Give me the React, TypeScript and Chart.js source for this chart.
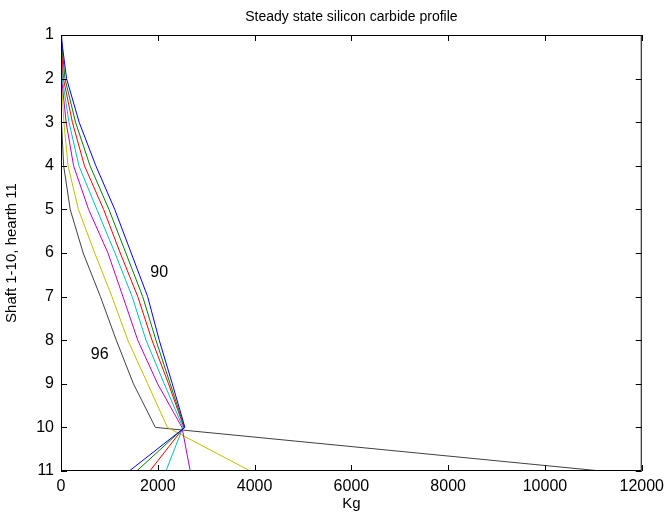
import React, { useEffect, useRef } from "react";
import { Chart, registerables } from "chart.js";

Chart.register(...registerables);

// Furnace levels: shaft 1-10, hearth 11
const levels = [1, 2, 3, 4, 5, 6, 7, 8, 9, 10, 11];

// Silicon carbide mass (kg) at each level, one profile per case
const kg90 = [0, 115, 375, 720, 1110, 1450, 1790, 2030, 2300, 2560, 1410];
const kg91 = [0, 82, 300, 600, 990, 1340, 1688, 1962, 2256, 2550, 1565];
const kg92 = [0, 50, 235, 485, 880, 1224, 1586, 1880, 2222, 2540, 1835];
const kg93 = [0, 27, 165, 370, 740, 1115, 1470, 1757, 2133, 2520, 2168];
const kg94 = [0, 14, 105, 260, 570, 970, 1280, 1586, 1996, 2500, 2670];
const kg95 = [0, 7, 60, 145, 360, 697, 1053, 1381, 1791, 2200, 3912];
const kg96 = [0, 0, 20, 55, 190, 458, 814, 1142, 1497, 1950, 11160];

const caseNames = ["90", "91", "92", "93", "94", "95", "96"];
const caseColors = [
  "rgb(0,0,255)",
  "rgb(0,128,0)",
  "rgb(255,0,0)",
  "rgb(0,191,191)",
  "rgb(191,0,191)",
  "rgb(191,191,0)",
  "rgb(64,64,64)",
];

const xTicks = [0, 2000, 4000, 6000, 8000, 10000, 12000];

const chartTitle = "Steady state silicon carbide profile";
const xTitle = "Kg";
const yTitle = "Shaft 1-10, hearth 11";

// Case labels placed beside the curves (data coordinates)
const curveNotes = [
  { text: "90", kg: 2030, level: 6.44 },
  { text: "96", kg: 800, level: 8.34 },
];

const FONT = "Liberation Sans, Arial, Helvetica, sans-serif";
const TICK_SIZE = 16;
const LABEL_SIZE = 15;

const boxPlugin = {
  id: "boxFrame",
  afterDraw(chart: any) {
    const { ctx, chartArea, scales } = chart;
    const { left, right, top, bottom } = chartArea;
    const tickLen = 6;
    ctx.save();
    ctx.strokeStyle = "#000";
    ctx.lineWidth = 1;
    ctx.beginPath();
    ctx.rect(left + 0.5, top + 0.5, right - left - 1, bottom - top - 1);
    ctx.stroke();
    // inward tick marks on all four sides
    ctx.beginPath();
    xTicks.forEach((v) => {
      const px = Math.round(scales.x.getPixelForValue(v)) + 0.5;
      ctx.moveTo(px, bottom);
      ctx.lineTo(px, bottom - tickLen);
      ctx.moveTo(px, top);
      ctx.lineTo(px, top + tickLen);
    });
    levels.forEach((v) => {
      const py = Math.round(scales.y.getPixelForValue(v)) + 0.5;
      ctx.moveTo(left, py);
      ctx.lineTo(left + tickLen, py);
      ctx.moveTo(right, py);
      ctx.lineTo(right - tickLen, py);
    });
    ctx.stroke();

    // title centred over the axes
    ctx.fillStyle = "#000";
    ctx.font = `${LABEL_SIZE - 1}px ${FONT}`;
    ctx.textAlign = "center";
    ctx.textBaseline = "middle";
    ctx.fillText(chartTitle, (left + right) / 2, 17);

    // curve labels
    ctx.font = `${TICK_SIZE}px ${FONT}`;
    curveNotes.forEach((n) => {
      ctx.fillText(
        n.text,
        scales.x.getPixelForValue(n.kg),
        scales.y.getPixelForValue(n.level)
      );
    });
    ctx.restore();
  },
};

export default function App() {
  const canvasRef = useRef<HTMLCanvasElement | null>(null);

  useEffect(() => {
    if (!canvasRef.current) return;
    const series = [kg90, kg91, kg92, kg93, kg94, kg95, kg96];
    const datasets = series.map((vals, i) => ({
      label: caseNames[i],
      data: vals.map((kg, j) => ({ x: kg, y: levels[j] })),
      borderColor: caseColors[i],
      backgroundColor: caseColors[i],
      borderWidth: 1,
      pointRadius: 0,
      showLine: true,
      fill: false,
      tension: 0,
    }));

    const chart = new Chart(canvasRef.current, {
      type: "scatter",
      data: { datasets },
      options: {
        animation: false,
        responsive: false,
        layout: { padding: { top: 35, right: 24, left: 0, bottom: 0 } },
        plugins: {
          legend: { display: false },
          tooltip: { enabled: false },
          title: { display: false },
        },
        scales: {
          x: {
            type: "linear",
            min: 0,
            max: 12000,
            afterBuildTicks(scale: any) {
              scale.ticks = xTicks.map((v) => ({ value: v }));
            },
            afterFit(scale: any) {
              scale.height = 44;
            },
            grid: { display: false, drawTicks: false },
            border: { display: false },
            ticks: {
              color: "#000",
              padding: 6,
              maxRotation: 0,
              autoSkip: false,
              font: { family: FONT, size: TICK_SIZE },
              callback: (v: any) => String(v),
            },
            title: {
              display: true,
              text: xTitle,
              color: "#000",
              font: { family: FONT, size: LABEL_SIZE },
              padding: { top: 0, bottom: 2 },
            },
          },
          y: {
            type: "linear",
            reverse: true,
            min: 1,
            max: 11,
            afterBuildTicks(scale: any) {
              scale.ticks = levels.map((v) => ({ value: v }));
            },
            afterFit(scale: any) {
              scale.width = 61;
            },
            grid: { display: false, drawTicks: false },
            border: { display: false },
            ticks: {
              color: "#000",
              padding: 7,
              autoSkip: false,
              font: { family: FONT, size: TICK_SIZE },
              callback: (v: any) => String(v),
            },
            title: {
              display: true,
              text: yTitle,
              color: "#000",
              font: { family: FONT, size: LABEL_SIZE },
              padding: { top: 3, bottom: 0 },
            },
          },
        },
      },
      plugins: [boxPlugin],
    });
    return () => chart.destroy();
  }, []);

  return (
    <div style={{ position: "absolute", left: 0, top: 0, width: 670, height: 515, background: "#fff" }}>
      <canvas ref={canvasRef} width={670} height={515} style={{ width: 670, height: 515 }} />
    </div>
  );
}
